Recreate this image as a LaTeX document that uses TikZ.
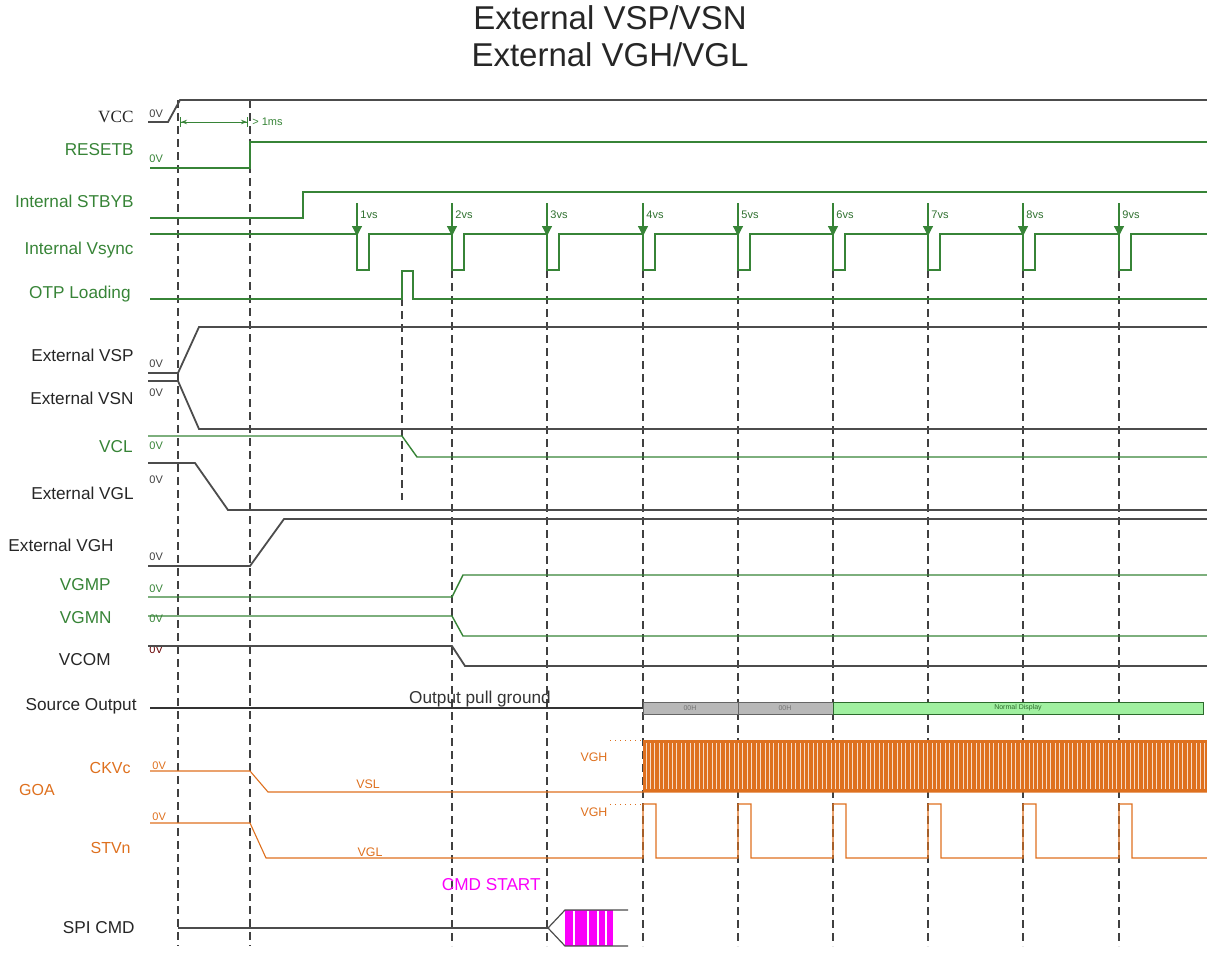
\documentclass[tikz,border=0pt]{standalone}
\usepackage{fontspec}
\setmainfont{Liberation Sans}
\newfontfamily\serifname{Liberation Serif}
\usepackage{tikz}
\usetikzlibrary{arrows.meta,positioning}
\definecolor{sigGreen}{RGB}{55,132,55}
\definecolor{goaOrange}{RGB}{222,112,30}
\definecolor{cmdPink}{RGB}{250,0,250}
\definecolor{boxGreen}{RGB}{160,240,160}

\begin{document}
\begin{tikzpicture}
  [
    x=0.5pt, y=-0.5pt,
    Name/.style={anchor=east, inner sep=0pt, font=\fontsize{8.6}{10}\selectfont, text=black!85},
    GreenName/.style={Name, text=sigGreen},
    OrangeName/.style={Name, text=goaOrange, font=\fontsize{8}{9}\selectfont},
    Zero/.style={anchor=west, inner sep=0pt, font=\fontsize{5.5}{6}\selectfont, text=black!75},
    Tiny/.style={inner sep=0pt, font=\fontsize{5.5}{6}\selectfont},
    GrayWave/.style={draw=black!70, line width=0.9pt},
    GreenWave/.style={draw=sigGreen, line width=0.7pt},
    OrangeWave/.style={draw=goaOrange, line width=0.55pt},
    Mark/.style={draw=black!75, line width=0.7pt, dash pattern=on 4pt off 2.5pt}
  ]
  \useasboundingbox (0,0) rectangle (1207,954);
  % Title
  \node[font=\fontsize{16.5}{18}\selectfont, text=black!85] (title1) at (610,18) {External VSP/VSN};
  \node[font=\fontsize{16.5}{18}\selectfont, text=black!85] (title2) at (610,55) {External VGH/VGL};
  % Nodes
  \node[Name] (vcc) at (134,117) {\serifname VCC};
  \node[GreenName] (resetb) at (134,150) {RESETB};
  \node[GreenName] (stbyb) at (134,201) {Internal STBYB};
  \node[GreenName] (vsync) at (134,250) {Internal Vsync};
  \node[GreenName] (otp) at (131,294) {OTP Loading};
  \node[Name] (vsp) at (134,355) {External VSP};
  \node[Name] (vsn) at (134,398) {External VSN};
  \node[GreenName] (vcl) at (133,447) {VCL};
  \node[Name] (vgl) at (134,493) {External VGL};
  \node[Name] (vgh) at (114,545) {External VGH};
  \node[GreenName] (vgmp) at (111,585) {VGMP};
  \node[GreenName] (vgmn) at (112,618) {VGMN};
  \node[Name] (vcom) at (111,660) {VCOM};
  \node[Name] (source) at (137,706) {Source Output};
  \node[OrangeName, anchor=center] (goa) at (37,790) {GOA};
  \node[OrangeName] (ckv) at (131,768) {CKVc};
  \node[OrangeName] (stv) at (131,848) {STVn};
  \node[Name] (spi) at (135,928) {SPI CMD};
  % 0V levels
  \node[Zero] (vcc0) at (149,114) {0V};
  \node[Zero, text=sigGreen] (resetb0) at (149,159) {0V};
  \node[Zero] (vsp0) at (149,364) {0V};
  \node[Zero] (vsn0) at (149,393) {0V};
  \node[Zero, text=sigGreen] (vcl0) at (149,446) {0V};
  \node[Zero] (vgl0) at (149,480) {0V};
  \node[Zero] (vgh0) at (149,557) {0V};
  \node[Zero, text=sigGreen] (vgmp0) at (149,589) {0V};
  \node[Zero, text=sigGreen] (vgmn0) at (149,619) {0V};
  \node[Zero, text=black!60!red] (vcom0) at (149,650) {0V};
  \node[Zero, text=goaOrange] (ckv0) at (152,766) {0V};
  \node[Zero, text=goaOrange] (stv0) at (152,817) {0V};
  % Markers
  \path [Mark] (178,100) -- (178,946);
  \path [Mark] (250,100) -- (250,946);
  \path [Mark] (402,272) -- (402,500);
  \foreach \x in {452,547,643,738,833,928,1023,1119}
    \path [Mark] (\x,270) -- (\x,946);
  % Power and reset
  \path [GrayWave] (148,122) -- (168,122) -- (180,100) -- (1207,100);
  \path [draw=sigGreen, line width=0.5pt, {Bar[width=5pt]Stealth[length=3pt]}-{Stealth[length=3pt]Bar[width=5pt]}] (180,122) -- (248,122);
  \node[Tiny, anchor=west, text=sigGreen] (ms) at (252,122) {> 1ms};
  \path [GreenWave] (150,168) -- (250,168) -- (250,142) -- (1207,142);
  \path [GreenWave] (150,218) -- (303,218) -- (303,192) -- (1207,192);
  % Vsync
  \path [GreenWave] (150,234)
    foreach \x in {357,452,547,643,738,833,928,1023,1119} { -- (\x,234) -- (\x,270) -- (\x+12,270) -- (\x+12,234) }
    -- (1207,234);
  \foreach \x [count=\k] in {357,452,547,643,738,833,928,1023,1119} {
    \path [draw=sigGreen, line width=0.6pt, -{Triangle[length=5pt,width=5pt]}] (\x,203) -- (\x,236);
    \node[Tiny, anchor=west, text=sigGreen!85!black] (vs\k) at (\x+3,215) {\k vs};
  }
  \path [GreenWave] (150,299) -- (402,299) -- (402,271) -- (413,271) -- (413,299) -- (1207,299);
  % Supplies
  \path [GrayWave] (148,373) -- (178,373) -- (199,327) -- (1207,327);
  \path [GrayWave] (148,381) -- (178,381) -- (199,429) -- (1207,429);
  \path [GreenWave] (148,436) -- (402,436) -- (417,457) -- (1207,457);
  \path [GrayWave] (148,463) -- (195,463) -- (228,510) -- (1207,510);
  \path [GrayWave] (148,566) -- (250,566) -- (284,519) -- (1207,519);
  \path [GreenWave] (148,597) -- (452,597) -- (463,575) -- (1207,575);
  \path [GreenWave] (148,616) -- (452,616) -- (463,636) -- (1207,636);
  \path [GrayWave] (148,646) -- (452,646) -- (465,666) -- (1207,666);
  % Source output
  \path [draw=black!80, line width=0.7pt] (150,708) -- (643,708);
  \node[font=\fontsize{8.6}{10}\selectfont, text=black!80, inner sep=0pt] (pull) at (480,699) {Output pull ground};
  \path [draw=black!60, fill=black!28, line width=0.5pt] (643,702) rectangle (738,714);
  \path [draw=black!60, fill=black!28, line width=0.5pt] (738,702) rectangle (833,714);
  \path [draw=sigGreen!80!black, fill=boxGreen, line width=0.5pt] (833,702) rectangle (1203,714);
  \node[inner sep=0pt, font=\fontsize{3.5}{4}\selectfont, text=black!55] (h1) at (690,708) {00H};
  \node[inner sep=0pt, font=\fontsize{3.5}{4}\selectfont, text=black!55] (h2) at (785,708) {00H};
  \node[inner sep=0pt, font=\fontsize{3.5}{4}\selectfont, text=sigGreen!80!black] (normal) at (1018,708) {Normal Display};
  % GOA
  \path [OrangeWave] (150,771) -- (250,771) -- (268,792) -- (1207,792);
  \path [fill=goaOrange] (643,740) rectangle (1207,792);
  \foreach \i [evaluate=\i as \w using {0.2+0.12*mod(\i,3)}] in {0,...,127}
    \path [draw=white!75!goaOrange, line width=\w pt] (646+\i*4.4,743) -- (646+\i*4.4,789);
  \path [draw=goaOrange, line width=0.5pt, dotted] (610,740) -- (643,740);
  \node[Tiny, text=goaOrange, font=\fontsize{6.2}{7}\selectfont] (ckvh) at (594,757) {VGH};
  \node[Tiny, text=goaOrange, font=\fontsize{6.2}{7}\selectfont] (ckvl) at (368,784) {VSL};
  \path [OrangeWave] (150,823) -- (250,823) -- (266,858) -- (643,858)
    foreach \x in {643,738,833,928,1023,1119} { -- (\x,858) -- (\x,804) -- (\x+13,804) -- (\x+13,858) }
    -- (1207,858);
  \path [draw=goaOrange, line width=0.5pt, dotted] (610,804) -- (643,804);
  \node[Tiny, text=goaOrange, font=\fontsize{6.2}{7}\selectfont] (stvh) at (594,812) {VGH};
  \node[Tiny, text=goaOrange, font=\fontsize{6.2}{7}\selectfont] (stvl) at (370,852) {VGL};
  % SPI
  \path [draw=black!70, line width=0.8pt] (178,928) -- (548,928);
  \path [fill=cmdPink] (565,910) rectangle (613,946);
  \foreach \x in {574,588,598,606}
    \path [draw=white, line width=0.6pt] (\x,911) -- (\x,945);
  \path [draw=black!70, line width=0.6pt] (548,928) -- (565,910) -- (628,910);
  \path [draw=black!70, line width=0.6pt] (548,928) -- (565,946) -- (628,946);
  \node[font=\fontsize{8.6}{10}\selectfont, text=cmdPink, inner sep=0pt, anchor=east] (cmd) at (541,885) {CMD START};
\end{tikzpicture}
\end{document}
